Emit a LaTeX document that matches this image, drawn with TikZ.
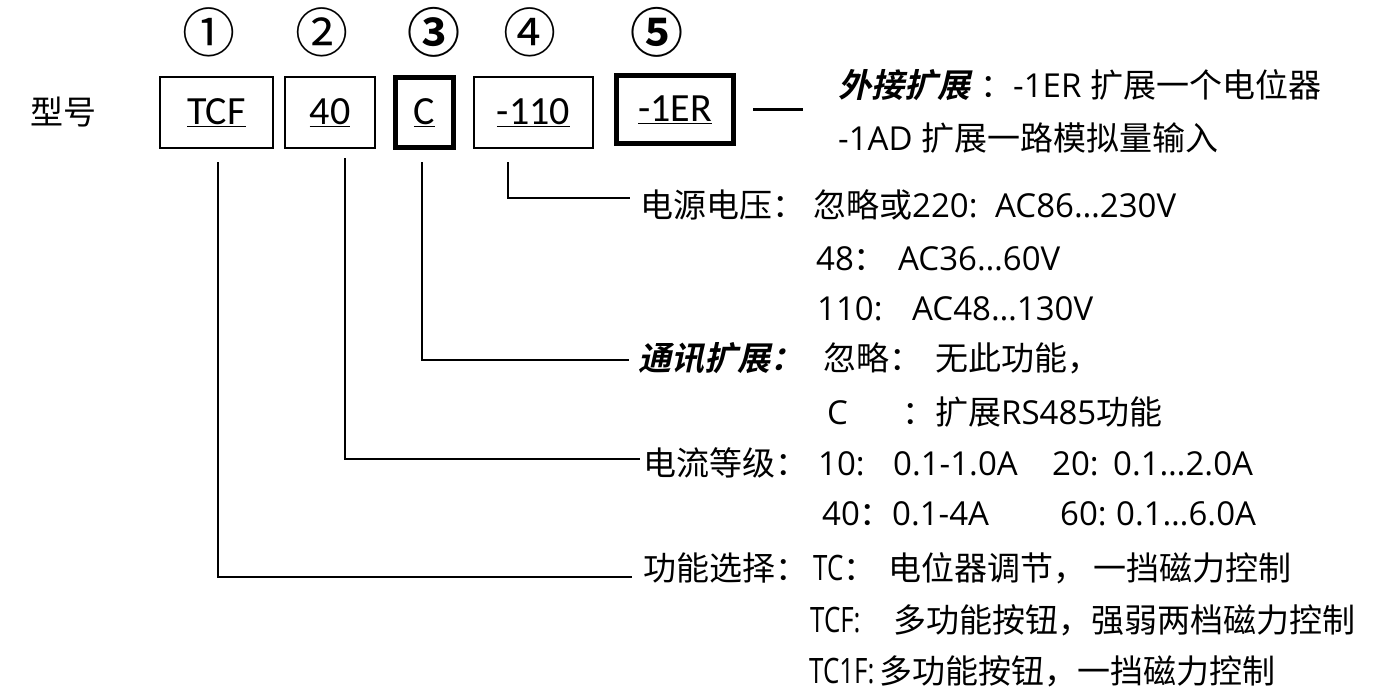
\documentclass[tikz,border=0pt]{standalone}
\usepackage{fontspec}
\setmainfont{Noto Sans CJK SC}
\newfontfamily\cjkb{Noto Sans CJK SC Bold}
\newfontfamily\cjkbi{Noto Sans CJK SC Bold}[FakeSlant=0.22]
\newfontfamily\lat{Open Sans}
\newfontfamily\latc{Carlito}
\newfontfamily\latn{Open Sans}[FakeStretch=0.74]
\begin{document}
\begin{tikzpicture}[x=1pt,y=-1pt,
  box/.style={draw, line width=2pt, inner sep=0pt, font=\latc\fontsize{40}{44}\selectfont},
  thickbox/.style={box, line width=5pt},
  conn/.style={line width=2.8pt},
  txt/.style={anchor=base west, inner sep=0pt, font=\fontsize{33}{40}\selectfont},
  num/.style={anchor=base, inner sep=0pt, font=\fontsize{53}{60}\selectfont},
  numb/.style={num, font=\cjkb\fontsize{53}{60}\selectfont}]
\useasboundingbox (0,0) rectangle (1374,689);
% circled numbers
\node[num]  (n1) at (209,52) {①};
\node[num]  (n2) at (322,52) {②};
\node[numb] (n3) at (434,52) {③};
\node[num]  (n4) at (530,52) {④};
\node[numb] (n5) at (657,52) {⑤};
% model label
\node[txt] (xh) at (30,124.5) {型号};
% boxes
\node[box, minimum width=113, minimum height=71] (b1) at (216.5,112.5) {\underline{TCF}};
\node[box, minimum width=90, minimum height=71] (b2) at (330,112.5) {\underline{40}};
\node[thickbox, minimum width=58, minimum height=70] (b3) at (424.5,112.5) {\underline{C}};
\node[box, minimum width=119, minimum height=71] (b4) at (533.5,112.5) {\underline{-110}};
\node[thickbox, minimum width=117, minimum height=68] (b5) at (675,109.5) {\underline{-1ER}};
% external extension
\node[txt] (ra) at (838,97.5) {{\cjkbi 外接扩展}\hspace{10pt}：{\lat -1ER }扩展一个电位器};
\node[txt] (rb) at (838,150.5) {{\lat -1AD }扩展一路模拟量输入};
% power supply
\node[txt] (rc1) at (640,217.5) {电源电压：};
\node[txt] (rc2) at (813,217.5) {忽略或{\lat 220:}};
\node[txt] (rc3) at (995,217.5) {\lat AC86…230V};
\node[txt] (rd1) at (816,270.5) {{\lat 48}：};
\node[txt] (rd2) at (898,270.5) {\lat AC36…60V};
\node[txt] (re1) at (817,320.5) {\lat 110:};
\node[txt] (re2) at (912,320.5) {\lat AC48…130V};
% communication
\node[txt] (rf1) at (638,370.5) {\cjkbi 通讯扩展：};
\node[txt] (rf2) at (823,370.5) {忽略：};
\node[txt] (rf3) at (935,370.5) {无此功能，};
\node[txt] (rg1) at (827,424.5) {\lat C};
\node[txt] (rg2) at (902,424.5) {：扩展{\lat RS485}功能};
% current
\node[txt] (rh1) at (643,475.5) {电流等级：};
\node[txt] (rh2) at (818,475.5) {\lat 10:};
\node[txt] (rh3) at (893,475.5) {\lat 0.1-1.0A};
\node[txt] (rh4) at (1052,475.5) {\lat 20:};
\node[txt] (rh5) at (1113,475.5) {\lat 0.1…2.0A};
\node[txt] (ri1) at (822,525.5) {{\lat 40}：};
\node[txt] (ri2) at (892,525.5) {\lat 0.1-4A};
\node[txt] (ri3) at (1060,525.5) {\lat 60:};
\node[txt] (ri4) at (1116,525.5) {\lat 0.1…6.0A};
% function
\node[txt] (rj1) at (643,580.5) {功能选择：};
\node[txt] (rj2) at (813,580.5) {{\latn\fontsize{35}{40}\selectfont TC}：};
\node[txt] (rj3) at (888,580.5) {电位器调节，};
\node[txt] (rj4) at (1093,580.5) {一挡磁力控制};
\node[txt] (rk1) at (810,632) {\latn\fontsize{35}{40}\selectfont TCF:};
\node[txt] (rk2) at (893,632) {多功能按钮，强弱两档磁力控制};
\node[txt] (rl1) at (809,683) {\latn\fontsize{35}{40}\selectfont TC1F:};
\node[txt] (rl2) at (879,683) {多功能按钮，一挡磁力控制};
% connectors
\draw[conn] ([xshift=1.5pt,yshift=-13pt]b1.south) |- ([xshift=-11pt,yshift=3.5pt]rj1.base west);
\draw[conn] ([xshift=15pt,yshift=-9pt]b2.south) |- ([xshift=-3pt,yshift=16.5pt]rh1.base west);
\draw[conn] ([xshift=-2.5pt,yshift=-12pt]b3.south) |- ([xshift=-9pt,yshift=10.5pt]rf1.base west);
\draw[conn] ([xshift=-25.5pt,yshift=-13pt]b4.south) |- ([xshift=-10pt,yshift=19.5pt]rc1.base west);
\draw[conn] ([xshift=17pt]b5.east) -- ([xshift=-35pt,yshift=-12pt]ra.base west);
\end{tikzpicture}
\end{document}
